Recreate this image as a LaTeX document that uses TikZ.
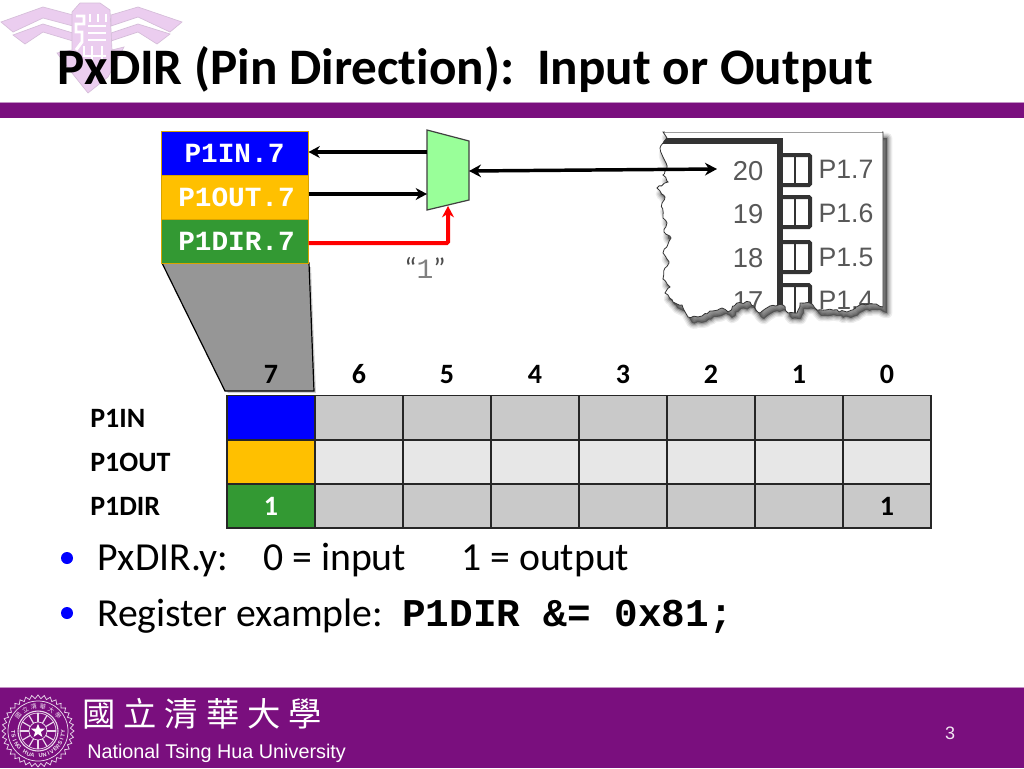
\documentclass[tikz,border=0pt]{standalone}
\usepackage{fontspec}
\setmainfont[Ligatures=NoCommon]{Carlito}
\newfontfamily\monof{Liberation Mono}
\newfontfamily\arialf{Liberation Sans}
\newfontfamily\cjkf{Noto Sans CJK TC}
\usetikzlibrary{arrows.meta,shapes.geometric,decorations.pathmorphing}
\definecolor{nthu}{HTML}{7A0F7E}
\definecolor{logo}{HTML}{EBCDEF}
\definecolor{inblue}{HTML}{0000FF}
\definecolor{outgold}{HTML}{FFC000}
\definecolor{dirgreen}{HTML}{339933}
\definecolor{rowdark}{HTML}{C9C9C9}
\definecolor{rowlight}{HTML}{E7E7E7}
\definecolor{pinink}{HTML}{333333}
\definecolor{pintext}{HTML}{585858}
\definecolor{muxfill}{HTML}{99FF99}
\tikzset{
  paperpath/.style={/utils/exec={\pgfmathsetseed{11}},insert path={decorate[decoration={random steps,segment length=2.4pt,amplitude=.8pt}]{(663,132) -- (667,138) -- (663,143) -- (660,148) -- (663,157) -- (667,168) -- (663,175) -- (668,182) -- (657,188) -- (665,197) -- (662,203) -- (663,218) -- (667,223) -- (664,232) -- (671,238) -- (663,253) -- (669,263) -- (665,268) -- (663,279) -- (670,287) -- (665,293) -- (673,302) -- (682,305) -- (688,317) -- (702,316) -- (710,311) -- (722,308) -- (728,312) -- (737,303) -- (750,302) -- (760,313) -- (770,306) -- (783,305) -- (788,313) -- (797,313) -- (800,303) -- (810,303) -- (817,310) -- (833,310) -- (847,312) -- (863,304) -- (873,304) -- (883,307)} -- (883,132) -- cycle}},
  regbox/.style={rectangle,draw=outgold!85!black,line width=.75pt,minimum width=110.25pt,inner sep=0pt,text=white,font=\monof\bfseries\fontsize{20.8}{24}\selectfont},
  cellbox/.style={rectangle,draw=black!85,line width=.8pt,minimum width=66pt,minimum height=33pt,inner sep=0pt},
  headlabel/.style={font=\bfseries\fontsize{21}{24}\selectfont,inner sep=0pt,anchor=base},
  rowlabel/.style={anchor=base west,font=\bfseries\fontsize{21}{24}\selectfont,inner sep=0pt},
  bodytext/.style={anchor=base west,font=\fontsize{29.8}{34}\selectfont,inner sep=0pt},
  pinnum/.style={text=pintext,font=\arialf\fontsize{20.5}{24}\selectfont,inner sep=0pt},
  pinname/.style={text=pintext,font=\arialf\fontsize{20}{24}\selectfont,inner sep=0pt},
  pinbox/.style={draw=pinink,line width=3pt,rounded corners=1pt},
  wire/.style={line width=2.4pt,-{Stealth[length=8.5pt,width=9pt]}},
  bullet/.style={circle,fill=inblue,minimum size=9pt,inner sep=0pt},
  sealink/.style={draw=white!85!nthu,line width=.55pt},
  sealtext/.style={text=white!90!nthu,inner sep=0pt,font=\arialf\bfseries\fontsize{4.2}{5}\selectfont},
}
\begin{document}
\begin{tikzpicture}[x=0.75pt,y=-0.75pt]
\useasboundingbox (0,0) rectangle (1024,768);
\fill[white] (0,0) rectangle (1024,768);

% logo watermark
\begin{scope}[fill=logo,draw=logo!80!gray,line width=.5pt]
  \filldraw (1,22) -- (43,7) -- (73,15) -- (73,26) -- (43,18) -- (13,32) -- cycle;
  \filldraw (13,35) -- (43,24) -- (73,33) -- (73,41) -- (43,32) -- (25,44) -- cycle;
  \filldraw (182,22) -- (138,7) -- (111,15) -- (111,26) -- (138,17) -- (170,32) -- cycle;
  \filldraw (170,34) -- (138,24) -- (111,33) -- (111,41) -- (138,32) -- (157,44) -- cycle;
  \filldraw (80,3) -- (100,3) -- (110,10) -- (112,50) -- (124,47) -- (108,77) -- (88,93) -- (72,73) -- (57,53) -- (72,50) -- (72,12) -- cycle;
\end{scope}
\begin{scope}[draw=white,line width=2.2pt]
  \draw (76,16) -- (84,16) -- (84,24) -- (76,24) -- (76,32) -- (82,32) -- (82,42) -- (76,50);
  \draw (90,14) -- (90,22) (98,14) -- (98,22) (106,14) -- (106,22);
  \draw (88,26) -- (106,26) (88,33) -- (106,33) (88,40) -- (106,40);
  \draw (84,46) -- (84,56) -- (106,56) (92,46) -- (92,62) (102,46) -- (102,62);
\end{scope}

% title bands
\fill[nthu] (0,102) rectangle (1024,118);
\draw[nthu!45!white,line width=.5pt] (0,102) -- (1024,102);
\fill[nthu] (0,687) rectangle (1024,768);
\draw[nthu!45!white,line width=.5pt] (0,687) -- (1024,687);

\node[anchor=base west,inner sep=0pt,font=\bfseries\fontsize{38.4}{44}\selectfont] (title) at (57,84) {PxDIR (Pin Direction):\hspace{.45em}Input or Output};

% torn datasheet
\begin{scope}[shift={(4,6)}]
\foreach \s/\o in {8/.07,6/.09,4/.13,2/.2}{
  \path[paperpath,fill=black,draw=black,line width=\s pt,line join=round,opacity=\o];
}
\end{scope}
\path[paperpath,fill=white];
\begin{scope}
  \path[paperpath,clip];
  \draw[pinink,line width=4.8pt] (655,141) -- (780,141) -- (780,325);
  \foreach \i/\t in {1/155,2/197,3/242,4/285}{
    \draw[pinbox] (783,\t) -- (810,\t) -- (810,\t+30) -- (783,\t+30);
    \draw[pinink,line width=2.2pt] (795,\t) -- (795,\t+30);
  }
  \node[pinnum] (n20) at (748,171) {20};
  \node[pinnum] (n19) at (748,214) {19};
  \node[pinnum] (n18) at (748,258) {18};
  \node[pinnum] (n17) at (748,301) {17};
  \node[pinname] (p17) at (846,169) {P1.7};
  \node[pinname] (p16) at (846,213) {P1.6};
  \node[pinname] (p15) at (846,257) {P1.5};
  \node[pinname] (p14) at (846,300) {P1.4};
\end{scope}
\draw[black!15,line width=.5pt] (663,132) -- (883,132);
\path[paperpath,draw=black!80,line width=.6pt];
\fill[white] (665,130) rectangle (882,131.6);

% register bits
\foreach \s/\o in {6/.05,4/.07,2/.09}{
  \fill[black,opacity=\o] (161,131) ++(3,3) rectangle (308,263);
}
\fill[black!60,opacity=.3] (165,267) -- (311,267) -- (316,393) -- (228,393) -- cycle;
\filldraw[fill=black!41,draw=black,line width=.9pt] (162,263) -- (309,263) -- (314,391) -- (225,391) -- cycle;
\node[regbox,fill=inblue,minimum height=33pt] (bin) at (234.5,153) {P1IN.7};
\node[regbox,fill=outgold,minimum height=33.5pt] (bout) at (234.5,197.5) {\hspace*{3pt}P1OUT.7};
\node[regbox,fill=dirgreen,minimum height=32.5pt] (bdir) at (234.5,241.5) {\hspace*{3pt}P1DIR.7};

% mux
\coordinate (m1) at (427,130);
\coordinate (m2) at (469,141);
\coordinate (m3) at (469,200);
\coordinate (m4) at (427,210);
\filldraw[fill=muxfill,draw=black!75,line width=.9pt] (m1) -- (m2) -- (m3) -- (m4) -- cycle;
\coordinate (muxin) at (427,152);
\coordinate (muxout) at (427,194);
\coordinate (muxsel) at (448,206);
\coordinate (muxcom) at (469,171);
\coordinate (pin20) at (717,169);
\draw[wire] (muxin) -- (bin.east |- muxin);
\draw[wire] (bout.east |- muxout) -- (muxout);
\draw[wire,red,line width=3pt,rounded corners=1pt] (bdir.east |- 0,243) -- (448,243) -- (muxsel);
\draw[wire,line width=2.6pt,{Stealth[length=9pt,width=9.5pt]}-{Stealth[length=9pt,width=9.5pt]}] (muxcom) -- (pin20);
\node[inner sep=0pt,text=black!70,font=\fontsize{22}{26}\selectfont] (one) at (425,268) {“{\color{black!50}\monof\fontsize{21}{26}\selectfont 1}”};

% register table
\foreach \b [count=\c from 0] in {7,6,5,4,3,2,1,0}{
  \node[headlabel] (h\b) at (271+88*\c,383) {\b};
}
\foreach \b [count=\c from 0] in {7,6,5,4,3,2,1,0}{
  \node[cellbox,fill=rowdark] (ra\b) at (271+88*\c,417.5) {};
  \node[cellbox,fill=rowlight] (rb\b) at (271+88*\c,462) {};
  \node[cellbox,fill=rowdark] (rc\b) at (271+88*\c,506) {};
}
\node[cellbox,fill=inblue] (ra7x) at (ra7) {};
\node[cellbox,fill=outgold] (rb7x) at (rb7) {};
\node[cellbox,fill=dirgreen,text=white,font=\bfseries\fontsize{21}{24}\selectfont] (rc7x) at (rc7) {1};
\node[font=\bfseries\fontsize{21}{24}\selectfont,inner sep=0pt] (rc0x) at (rc0) {1};
\node[rowlabel] (l1) at (90,427) {P1IN};
\node[rowlabel] (l2) at (90,471) {P1OUT};
\node[rowlabel] (l3) at (90,515) {P1DIR};

% bullets
\node[bullet] (b1) at (67,558) {};
\node[bullet] (b2) at (67,613) {};
\node[bodytext] (t1) at (97,570) {PxDIR.y:};
\node[bodytext] (t2) at (263,570) {0 = input};
\node[bodytext] (t3) at (461,570) {1 = output};
\node[bodytext] (t4) at (97,626) {Register example:};
\node[anchor=base west,inner sep=0pt,font=\monof\bfseries\fontsize{29.5}{34}\selectfont] (t5) at (402,626) {P1DIR \&= 0x81;};

% footer
\node[anchor=west,inner sep=0pt,text=white,font=\cjkf\fontsize{25}{30}\selectfont] (cn) at (82,714) {國\hspace{6pt}立\hspace{6pt}清\hspace{6pt}華\hspace{6pt}大\hspace{6pt}學};
\node[anchor=base west,inner sep=0pt,text=white,font=\arialf\fontsize{14.85}{18}\selectfont] (en) at (87,758) {National Tsing Hua University};
\node[inner sep=0pt,text=white!90!nthu,font=\arialf\fontsize{13.5}{16}\selectfont] (pg) at (950,733) {3};

% seal
\begin{scope}[shift={(38,731)}]
  \draw[sealink] (0:36)
    \foreach \a in {5,10,...,355}{ -- (\a:{36-mod(\a,10)*0.7}) } -- cycle;
  \draw[sealink] (0,0) circle (30);
  \draw[sealink,line width=.8pt] (0,0) circle (20);
  \draw[sealink] (0,0) circle (18);
  \draw[sealink] (0,0) circle (9);
  \foreach \a in {0,30,...,330}{ \draw[sealink,line width=.9pt] (\a:9) -- (\a:18); }
  \node[star,star points=5,star point ratio=2.4,fill=white,minimum size=11pt,inner sep=0pt] (sealstar) at (0,0) {};
  \foreach \ch [count=\i from 0] in {T,S,I,N,G,{ },H,U,A,{ },U,N,I,V,E,R,S,I,T,Y}{
    \pgfmathsetmacro{\ang}{177-\i*9.3}
    \pgfmathsetmacro{\rot}{90-\ang}
    \node[sealtext,rotate=\rot] (seal\i) at (\ang:25) {\ch};
  }
  \foreach \ch [count=\i from 0] in {國,立,清,華,大,學}{
    \pgfmathsetmacro{\ang}{218+\i*21}
    \pgfmathsetmacro{\rot}{270-\ang}
    \node[sealtext,rotate=\rot,font=\cjkf\fontsize{4.6}{5}\selectfont] (sealc\i) at (\ang:25) {\ch};
  }
\end{scope}
\end{tikzpicture}
\end{document}
